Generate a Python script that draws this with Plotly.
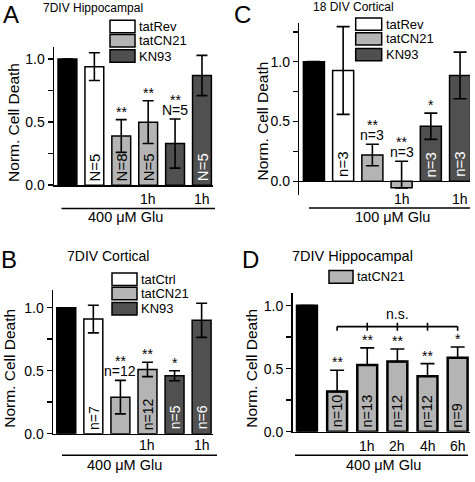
import plotly.graph_objects as go

W, H = 475, 482
FONT = "Arial, 'Liberation Sans', Helvetica, sans-serif"

COLORS = {"ctrl": "#000000", "rev": "#ffffff", "cn21": "#b4b4b4", "kn93": "#505050"}

# ---------------- data ----------------
# Panel A : 7DIV Hippocampal, 400 uM Glu
a_categories = ["Control", "tatRev", "tatCN21", "tatCN21 1h", "KN93", "KN93 1h"]
a_groups = ["ctrl", "rev", "cn21", "cn21", "kn93", "kn93"]
a_values = [1.00, 0.94, 0.39, 0.50, 0.33, 0.87]
a_err_up = [0.0, 0.11, 0.13, 0.17, 0.195, 0.16]
a_err_down = [0.0, 0.11, 0.13, 0.17, 0.195, 0.16]
a_n_inside = ["", "N=5", "N=8", "N=5", "", "N=5"]
a_n_above = ["", "", "", "", "N=5", ""]
a_stars = ["", "", "**", "**", "**", ""]
a_time = ["", "", "", "1h", "", "1h"]
a_legend = ["tatRev", "tatCN21", "KN93"]
a_legend_groups = ["rev", "cn21", "kn93"]

# Panel B : 7DIV Cortical, 400 uM Glu
b_categories = ["Control", "tatCtrl", "tatCN21", "tatCN21 1h", "KN93", "KN93 1h"]
b_groups = ["ctrl", "rev", "cn21", "cn21", "kn93", "kn93"]
b_values = [1.00, 0.91, 0.29, 0.51, 0.46, 0.90]
b_err_up = [0.0, 0.11, 0.133, 0.057, 0.04, 0.135]
b_err_down = [0.0, 0.11, 0.133, 0.057, 0.04, 0.135]
b_n_inside = ["", "n=7", "", "n=12", "n=5", "n=6"]
b_n_above = ["", "", "n=12", "", "", ""]
b_stars = ["", "", "**", "**", "*", ""]
b_time = ["", "", "", "1h", "", "1h"]
b_legend = ["tatCtrl", "tatCN21", "KN93"]
b_legend_groups = ["rev", "cn21", "kn93"]

# Panel C : 18 DIV Cortical, 100 uM Glu
c_categories = ["Control", "tatRev", "tatCN21", "tatCN21 1h", "KN93", "KN93 1h"]
c_groups = ["ctrl", "rev", "cn21", "cn21", "kn93", "kn93"]
c_values = [1.00, 0.926, 0.219, -0.055, 0.46, 0.885]
c_err_up = [0.0, 0.367, 0.09, 0.222, 0.11, 0.195]
c_err_down = [0.0, 0.367, 0.09, 0.0, 0.11, 0.195]
c_n_inside = ["", "n=3", "", "", "n=3", "n=3"]
c_n_above = ["", "", "n=3", "n=3", "", ""]
c_stars = ["", "", "**", "**", "*", ""]
c_time = ["", "", "", "1h", "", "1h"]
c_legend = ["tatRev", "tatCN21", "KN93"]
c_legend_groups = ["rev", "cn21", "kn93"]

# Panel D : 7DIV Hippocampal, tatCN21 added at different times
d_categories = ["Control", "0h", "1h", "2h", "4h", "6h"]
d_groups = ["ctrl", "cn21", "cn21", "cn21", "cn21", "cn21"]
d_values = [1.00, 0.318, 0.53, 0.556, 0.44, 0.587]
d_err_up = [0.0, 0.17, 0.135, 0.10, 0.10, 0.085]
d_err_down = [0.0, 0.0, 0.0, 0.0, 0.0, 0.0]
d_n_inside = ["", "n=10", "n=13", "n=12", "n=12", "n=9"]
d_n_above = ["", "", "", "", "", ""]
d_stars = ["", "**", "**", "**", "**", "*"]
d_time = ["", "", "1h", "2h", "4h", "6h"]
d_legend = ["tatCN21"]
d_legend_groups = ["cn21"]

y_tick_values = [0, 0.25, 0.5, 0.75, 1.0, 1.25]
y_tick_text = ["0.0", "", "0.5", "", "1.0", ""]

# ---------------- layout config ----------------
panels = [
    dict(letter="A", title="7DIV Hippocampal", glu="400 μM Glu",
         cats=a_categories, groups=a_groups, vals=a_values, eu=a_err_up, ed=a_err_down,
         n_in=a_n_inside, n_ab=a_n_above, stars=a_stars, time=a_time,
         leg=a_legend, leg_g=a_legend_groups,
         xpx=(54, 213), ypx=(47.3, 188.3), xr=(-0.5, 5.41), yr=(0, 1.10), zero=False,
         bw=0.70, lw=1.5, capw=5.5, in_size=15,
         letter_xy=(11, 14.5), title_xy=(42, 8.5), title_size=12,
         leg_box=(110, 135), leg_rows=(27, 41.5, 57), leg_h=12.6,
         ytitle_xy=(14, 125), time_y=202.5, line=(61.5, 215, 212), glu_xy=(125, 221)),
    dict(letter="B", title="7DIV Cortical", glu="400 μM Glu",
         cats=b_categories, groups=b_groups, vals=b_values, eu=b_err_up, ed=b_err_down,
         n_in=b_n_inside, n_ab=b_n_above, stars=b_stars, time=b_time,
         leg=b_legend, leg_g=b_legend_groups,
         xpx=(53, 213), ypx=(295, 441), xr=(-0.49, 5.42), yr=(0, 1.14), zero=False,
         bw=0.70, lw=1.5, capw=5.5, in_size=14,
         letter_xy=(9, 263.5), title_xy=(66, 260), title_size=14,
         leg_box=(112, 137), leg_rows=(284, 298.5, 314), leg_h=12.6,
         ytitle_xy=(10, 375), time_y=453, line=(62, 217, 463), glu_xy=(124.5, 473)),
    dict(letter="C", title="18 DIV Cortical", glu="100 μM Glu",
         cats=c_categories, groups=c_groups, vals=c_values, eu=c_err_up, ed=c_err_down,
         n_in=c_n_inside, n_ab=c_n_above, stars=c_stars, time=c_time,
         leg=c_legend, leg_g=c_legend_groups,
         xpx=(299.3, 470), ypx=(23.3, 198.3), xr=(-0.5, 5.34), yr=(-0.115, 1.324), zero=True,
         bw=0.72, lw=1.5, capw=6.5, in_size=15,
         letter_xy=(242, 14.5), title_xy=(312, 7.5), title_size=12,
         leg_box=(355.7, 381.7), leg_rows=(24.5, 39.5, 55.5), leg_h=12.6,
         ytitle_xy=(262.5, 123), time_y=202.5, line=(309, 470, 211.5), glu_xy=(392.5, 221)),
    dict(letter="D", title="7DIV Hippocampal", glu="400 μM Glu",
         cats=d_categories, groups=d_groups, vals=d_values, eu=d_err_up, ed=d_err_down,
         n_in=d_n_inside, n_ab=d_n_above, stars=d_stars, time=d_time,
         leg=d_legend, leg_g=d_legend_groups,
         xpx=(292.5, 470), ypx=(298, 439), xr=(-0.48, 5.41), yr=(0, 1.10), zero=False,
         bw=0.66, lw=2.5, capw=7, in_size=14.5,
         letter_xy=(250, 263.5), title_xy=(291, 260), title_size=14.5,
         leg_box=(329, 353), leg_rows=(281.5,), leg_h=13,
         ytitle_xy=(252, 375), time_y=453.5, line=(295, 468, 463), glu_xy=(383, 473)),
]


def px(x):
    return x / W


def py(y):
    return 1 - y / H


fig = go.Figure()
annotations = []
shapes = []
layout_axes = {}

for k, p in enumerate(panels, start=1):
    xa = "x" if k == 1 else f"x{k}"
    ya = "y" if k == 1 else f"y{k}"
    xkey = "xaxis" if k == 1 else f"xaxis{k}"
    ykey = "yaxis" if k == 1 else f"yaxis{k}"
    n = len(p["cats"])
    pos = list(range(n))
    cols = [COLORS[g] for g in p["groups"]]

    fig.add_trace(go.Bar(
        x=pos, y=p["vals"], width=p["bw"], name=p["letter"],
        customdata=p["cats"],
        marker=dict(color=cols, line=dict(color="black", width=p["lw"])),
        error_y=dict(type="data", symmetric=False, array=p["eu"], arrayminus=p["ed"],
                     color="black", thickness=1.6, width=p["capw"]),
        xaxis=xa, yaxis=ya, showlegend=False, hoverinfo="skip"))

    layout_axes[xkey] = dict(
        domain=[px(p["xpx"][0]), px(p["xpx"][1])], range=list(p["xr"]), anchor=ya,
        showline=not p["zero"], linecolor="black", linewidth=1.5, ticks="",
        showticklabels=False, showgrid=False, zeroline=False, fixedrange=True)
    yt = [v for v in y_tick_values if p["yr"][0] <= v <= p["yr"][1]]
    ytt = [y_tick_text[y_tick_values.index(v)] for v in yt]
    layout_axes[ykey] = dict(
        domain=[py(p["ypx"][1]), py(p["ypx"][0])], range=list(p["yr"]), anchor=xa,
        showline=True, linecolor="black", linewidth=1.5, ticks="outside", ticklen=5,
        tickwidth=1.5, tickcolor="black", tickvals=yt, ticktext=ytt,
        tickfont=dict(family=FONT, size=14, color="black"), showgrid=False,
        zeroline=p["zero"], zerolinecolor="black", zerolinewidth=1.5, fixedrange=True)

    # labels inside bars (rotated)
    for i in pos:
        if p["n_in"][i]:
            annotations.append(dict(
                x=i, y=0, xref=xa, yref=ya, text=p["n_in"][i], showarrow=False,
                textangle=-90, xanchor="center", yanchor="bottom", yshift=3, borderpad=0,
                font=dict(family=FONT, size=p["in_size"],
                          color="white" if p["groups"][i] == "kn93" else "black")))
        top = p["vals"][i] + p["eu"][i]
        if p["n_ab"][i]:
            annotations.append(dict(
                x=i, y=top, xref=xa, yref=ya, text=p["n_ab"][i], showarrow=False,
                xanchor="center", yanchor="bottom", yshift=0, borderpad=0,
                font=dict(family=FONT, size=14, color="black")))
        if p["stars"][i]:
            annotations.append(dict(
                x=i, y=top, xref=xa, yref=ya, text=p["stars"][i], showarrow=False,
                xanchor="center", yanchor="bottom", yshift=10 if p["n_ab"][i] else -1,
                borderpad=0, font=dict(family=FONT, size=14, color="black")))
        if p["time"][i]:
            annotations.append(dict(
                x=i, y=py(p["time_y"]), xref=xa, yref="paper", text=p["time"][i],
                showarrow=False, xanchor="center", yanchor="middle", borderpad=0,
                font=dict(family=FONT, size=14, color="black")))

    # panel letter, title, y title
    annotations.append(dict(x=px(p["letter_xy"][0]), y=py(p["letter_xy"][1]), xref="paper",
                            yref="paper", text=p["letter"], showarrow=False, xanchor="center",
                            yanchor="middle", borderpad=0,
                            font=dict(family=FONT, size=24, color="black")))
    annotations.append(dict(x=px(p["title_xy"][0]), y=py(p["title_xy"][1]), xref="paper",
                            yref="paper", text=p["title"], showarrow=False, xanchor="left",
                            yanchor="middle", borderpad=0,
                            font=dict(family=FONT, size=p["title_size"], color="black")))
    annotations.append(dict(x=px(p["ytitle_xy"][0]), y=py(p["ytitle_xy"][1]), xref="paper",
                            yref="paper", text="Norm. Cell Death", showarrow=False,
                            textangle=-90, xanchor="center", yanchor="middle", borderpad=0,
                            font=dict(family=FONT, size=15.5, color="black")))

    # legend boxes
    for lab, g, yc in zip(p["leg"], p["leg_g"], p["leg_rows"]):
        shapes.append(dict(type="rect", xref="paper", yref="paper",
                           x0=px(p["leg_box"][0]), x1=px(p["leg_box"][1]),
                           y0=py(yc + p["leg_h"] / 2), y1=py(yc - p["leg_h"] / 2),
                           fillcolor=COLORS[g], line=dict(color="black", width=1.5)))
        annotations.append(dict(x=px(p["leg_box"][1] + 3), y=py(yc), xref="paper",
                                yref="paper", text=lab, showarrow=False, xanchor="left",
                                yanchor="middle", borderpad=0,
                                font=dict(family=FONT, size=13, color="black")))

    # glutamate bar
    x0, x1, yl = p["line"]
    shapes.append(dict(type="line", xref="paper", yref="paper", x0=px(x0), x1=px(x1),
                       y0=py(yl), y1=py(yl), line=dict(color="black", width=1.5)))
    annotations.append(dict(x=px(p["glu_xy"][0]), y=py(p["glu_xy"][1]), xref="paper",
                            yref="paper", text=p["glu"], showarrow=False, xanchor="center",
                            yanchor="middle", borderpad=0,
                            font=dict(family=FONT, size=14.5, color="black")))

# n.s. bracket in panel D over the tatCN21 bars
d_idx = [i for i, g in enumerate(d_groups) if g == "cn21"]
br_y, br_low, br_high = 0.834, 0.80, 0.865
shapes.append(dict(type="line", xref="x4", yref="y4", x0=d_idx[0], x1=d_idx[-1],
                   y0=br_y, y1=br_y, line=dict(color="black", width=1.6)))
for j, i in enumerate(d_idx):
    top = br_y if j in (0, len(d_idx) - 1) else br_high
    shapes.append(dict(type="line", xref="x4", yref="y4", x0=i, x1=i, y0=br_low, y1=top,
                       line=dict(color="black", width=1.6)))
annotations.append(dict(x=(d_idx[0] + d_idx[-1]) / 2, y=0.934, xref="x4", yref="y4",
                        text="n.s.", showarrow=False, xanchor="center", yanchor="middle",
                        font=dict(family=FONT, size=14, color="black")))

fig.update_layout(
    width=W, height=H, margin=dict(l=0, r=0, t=0, b=0),
    paper_bgcolor="white", plot_bgcolor="white", bargap=0,
    font=dict(family=FONT, color="black"),
    annotations=annotations, shapes=shapes, showlegend=False,
    **layout_axes)

fig.write_html("out.html", config={"displayModeBar": False, "staticPlot": True},
               post_script="document.body.style.margin='0';document.body.style.overflow='hidden';")
